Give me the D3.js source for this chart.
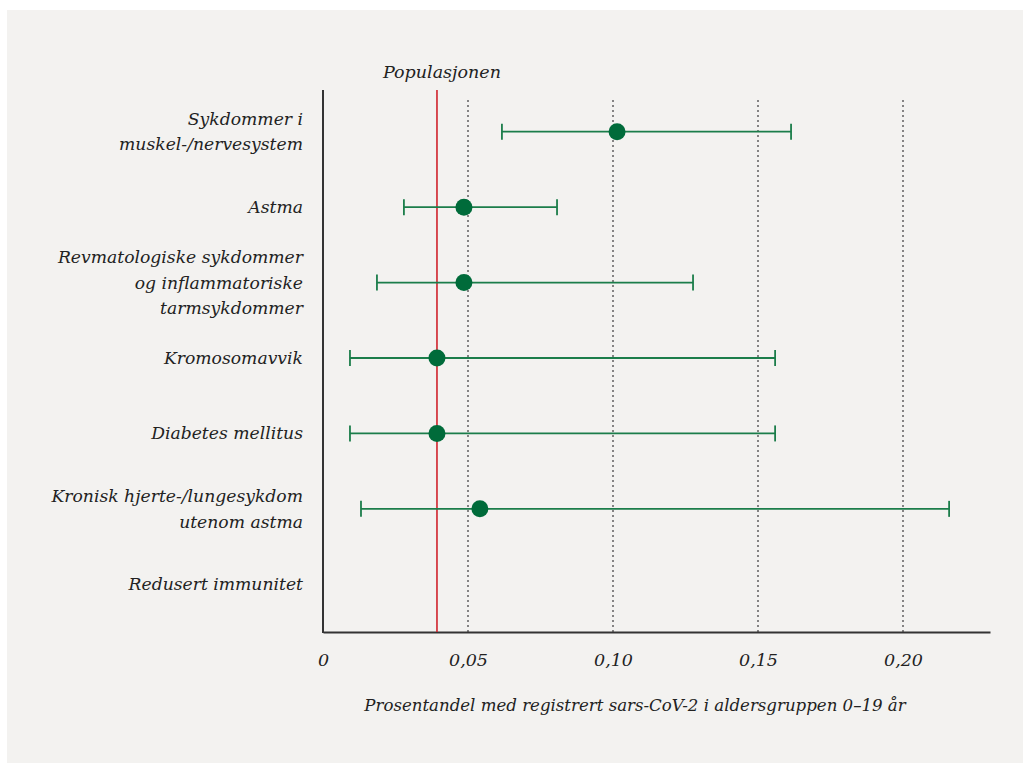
<!DOCTYPE html>
<html><head><meta charset="utf-8">
<script src="https://cdn.jsdelivr.net/npm/d3@7"></script>
<style>
html,body{margin:0;padding:0;background:#fff;}
svg{display:block;}
text{font-family:"DejaVu Serif",serif;font-style:italic;fill:#222;}
</style></head>
<body>
<svg id="chart" width="1023" height="763"></svg>
<script>
const categories = [
  ["Sykdommer i", "muskel-/nervesystem"],
  ["Astma"],
  ["Revmatologiske sykdommer", "og inflammatoriske", "tarmsykdommer"],
  ["Kromosomavvik"],
  ["Diabetes mellitus"],
  ["Kronisk hjerte-/lungesykdom", "utenom astma"],
  ["Redusert immunitet"]
];
const estimates = [0.1014, 0.0486, 0.0486, 0.0393, 0.0393, 0.0541, null];
const lower     = [0.0617, 0.0279, 0.0186, 0.0093, 0.0093, 0.0131, null];
const upper     = [0.1614, 0.0807, 0.1276, 0.1559, 0.1559, 0.2159, null];
const population = 0.0393;
const tickValues = [0, 0.05, 0.10, 0.15, 0.20];
const tickLabels = ["0", "0,05", "0,10", "0,15", "0,20"];
const populationLabel = "Populasjonen";
const xTitle = "Prosentandel med registrert sars-CoV-2 i aldersgruppen 0–19 år";

const svg = d3.select("#chart");
svg.append("rect").attr("x",7).attr("y",10).attr("width",1016).attr("height",753).attr("fill","#f3f2f0");

const x = d3.scaleLinear().domain([0, 0.23]).range([323, 990]);
const y = d3.scalePoint().domain(d3.range(categories.length)).range([94, 622]).padding(0.5);
const axisTop = 90, axisBottom = 632;
const green = "#1b7d4a", dotGreen = "#006b3a", red = "#d0222b";

// gridlines
svg.append("g").selectAll("line").data(tickValues.slice(1)).join("line")
  .attr("x1", d=>x(d)).attr("x2", d=>x(d))
  .attr("y1", 100).attr("y2", axisBottom)
  .attr("stroke","#555").attr("stroke-width",1.4).attr("stroke-dasharray","2,3");

// x axis
const xAxis = d3.axisBottom(x).tickValues(tickValues).tickFormat((d,i)=>tickLabels[i]).tickSize(0).tickPadding(22);
const gx = svg.append("g").attr("transform",`translate(0,${axisBottom})`).call(xAxis);
gx.select(".domain").attr("stroke","#333").attr("stroke-width",2);
gx.selectAll("text").attr("font-size",17.5).attr("fill","#222").style("font-family",null);

// y axis line
svg.append("line").attr("x1",x(0)).attr("x2",x(0)).attr("y1",axisTop).attr("y2",axisBottom+1)
  .attr("stroke","#333").attr("stroke-width",2);

// population line
svg.append("line").attr("x1",x(population)).attr("x2",x(population)).attr("y1",axisTop).attr("y2",axisBottom)
  .attr("stroke",red).attr("stroke-width",1.6);
svg.append("text").attr("x",x(population)+5).attr("y",78).attr("text-anchor","middle")
  .attr("font-size",17.5).text(populationLabel);

// category labels
const lh = 25.5;
categories.forEach((lines,i)=>{
  const t = svg.append("text").attr("text-anchor","end").attr("font-size",17.2);
  const n = lines.length;
  lines.forEach((l,j)=>{
    t.append("tspan").attr("x",303).attr("y", y(i) + 6 + (j - (n-1)/2)*lh).text(l);
  });
});

// error bars
const idx = d3.range(categories.length).filter(i=>estimates[i]!==null);
const g = svg.append("g");
g.selectAll("line.ci").data(idx).join("line").attr("class","ci")
  .attr("x1",i=>x(lower[i])).attr("x2",i=>x(upper[i]))
  .attr("y1",i=>y(i)).attr("y2",i=>y(i))
  .attr("stroke",green).attr("stroke-width",1.8);
g.selectAll("line.cl").data(idx).join("line").attr("class","cl")
  .attr("x1",i=>x(lower[i])).attr("x2",i=>x(lower[i]))
  .attr("y1",i=>y(i)-8).attr("y2",i=>y(i)+8)
  .attr("stroke",green).attr("stroke-width",1.8);
g.selectAll("line.cu").data(idx).join("line").attr("class","cu")
  .attr("x1",i=>x(upper[i])).attr("x2",i=>x(upper[i]))
  .attr("y1",i=>y(i)-8).attr("y2",i=>y(i)+8)
  .attr("stroke",green).attr("stroke-width",1.8);
g.selectAll("circle").data(idx).join("circle")
  .attr("cx",i=>x(estimates[i])).attr("cy",i=>y(i)).attr("r",8.5)
  .attr("fill",dotGreen);

// x title
svg.append("text").attr("x",635).attr("y",711).attr("text-anchor","middle")
  .attr("font-size",16.6).text(xTitle);
</script>
</body></html>
